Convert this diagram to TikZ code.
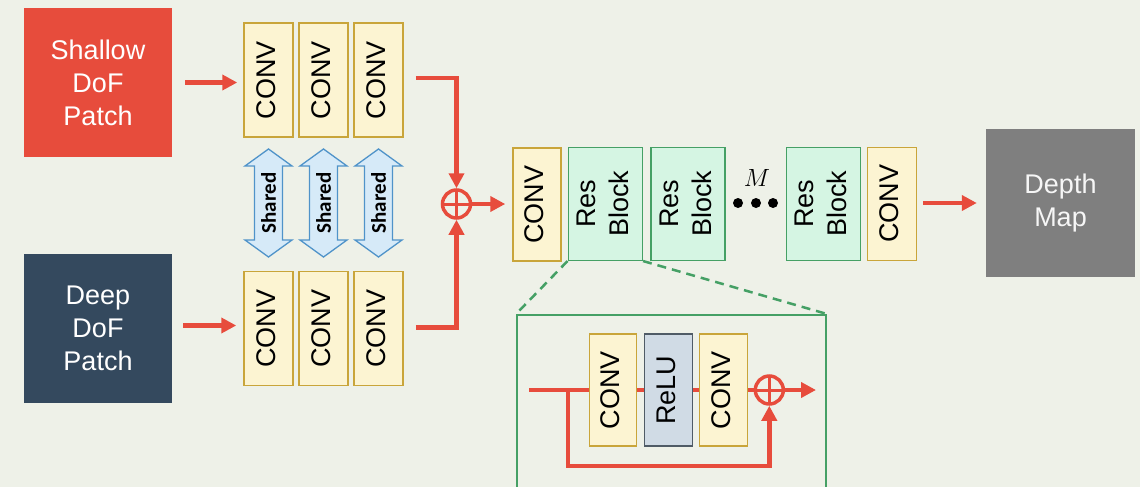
\documentclass[tikz,border=0pt]{standalone}
\usepackage{fontspec}
\usetikzlibrary{arrows.meta}
\newfontfamily\diagsans{Liberation Sans}
\newfontfamily\sharedsans{Carlito}
\newcommand\labfont{\diagsans\fontsize{27}{33}\selectfont}
\newcommand\vlab[1]{\rotatebox{90}{\begin{tabular}{@{}c@{}}#1\end{tabular}}}

\definecolor{bgc}{HTML}{EEF1E8}
\definecolor{redc}{HTML}{E74C3C}
\definecolor{navyc}{HTML}{34495E}
\definecolor{grayc}{HTML}{7F7F7F}
\definecolor{convfill}{HTML}{FCF4D2}
\definecolor{convline}{HTML}{C9A53A}
\definecolor{resfill}{HTML}{D5F5E3}
\definecolor{resline}{HTML}{45A065}
\definecolor{relufill}{HTML}{D0DBE5}
\definecolor{reluline}{HTML}{4F5B66}
\definecolor{sharefill}{HTML}{D6EAF8}
\definecolor{shareline}{HTML}{4F93C9}

\tikzset{
  patchbox/.style={minimum width=148pt, minimum height=149pt, inner sep=0pt,
    text=white, align=center, font=\labfont},
  convbox/.style={draw=convline, fill=convfill, line width=1.5pt,
    minimum width=49pt, minimum height=114pt, inner sep=0pt, font=\labfont},
  resbox/.style={draw=resline, fill=resfill, line width=1.5pt,
    minimum width=74pt, minimum height=113pt, inner sep=0pt, font=\labfont},
  relubox/.style={draw=reluline, fill=relufill, line width=1.5pt,
    minimum width=48pt, minimum height=112pt, inner sep=0pt, font=\labfont},
  redline/.style={draw=redc, line width=4.5pt},
  redarrow/.style={redline, -{Triangle[length=15pt,width=15pt]}},
  sumnode/.style={circle, draw=redc, line width=3.5pt, minimum size=28pt,
    inner sep=0pt, path picture={
      \draw[redc, line width=3pt]
        (path picture bounding box.north) -- (path picture bounding box.south)
        (path picture bounding box.west) -- (path picture bounding box.east);}},
  zoomline/.style={draw=resline, line width=2.5pt, dash pattern=on 9pt off 6pt},
  sharedarrow/.pic={
    \draw[draw=shareline, fill=sharefill, line width=1.3pt]
      (0,-54) -- (23.5,-37) -- (14,-37) -- (14,37) -- (23.5,37) -- (0,54)
      -- (-23.5,37) -- (-14,37) -- (-14,-37) -- (-23.5,-37) -- cycle;
    \node[inner sep=0pt, font=\sharedsans\bfseries\fontsize{21}{25}\selectfont]
      {\rotatebox{90}{Shared}};
  }
}

\begin{document}
\begin{tikzpicture}[x=1pt, y=-1pt]
  \useasboundingbox (0,0) rectangle (1140,487);
  \fill[bgc] (0,0) rectangle (1140,487);

  % inputs
  \node[patchbox, fill=redc]  (shallow) at (98,82.5)  {Shallow\\DoF\\Patch};
  \node[patchbox, fill=navyc] (deep)    at (98,328.5) {Deep\\DoF\\Patch};

  % two feature branches with shared weights
  \node[convbox] (a1) at (268.5,80) {\vlab{CONV}};
  \node[convbox] (a2) at (323.5,80) {\vlab{CONV}};
  \node[convbox] (a3) at (378.5,80) {\vlab{CONV}};
  \node[convbox] (b1) at (268.5,328.7) {\vlab{CONV}};
  \node[convbox] (b2) at (323.5,328.7) {\vlab{CONV}};
  \node[convbox] (b3) at (378.5,328.7) {\vlab{CONV}};
  \pic at (268.5,203) {sharedarrow};
  \pic at (323.5,203) {sharedarrow};
  \pic at (378.5,203) {sharedarrow};

  \draw[redarrow, shorten <=13pt, shorten >=6pt] (shallow.east) -- (shallow.east -| a1.west);
  \draw[redarrow, shorten <=11pt, shorten >=7pt] ([yshift=3pt]deep.east) -- ([yshift=3pt]deep.east -| b1.west);

  % fusion
  \node[sumnode] (sum) at (456.5,204) {};
  \draw[redarrow] ([xshift=12pt,yshift=2pt]a3.east) -| (sum.north);
  \draw[redarrow] ([xshift=12pt,yshift=1pt]b3.east) -| (sum.south);

  % main trunk
  \node[convbox, minimum width=48pt, minimum height=113pt] (m0) at (537,204.5) {\vlab{CONV}};
  \node[resbox] (r1) at (605.3,203.8) {\vlab{Res\\Block}};
  \node[resbox] (r2) at (688,203.8) {\vlab{Res\\Block}};
  \node[resbox] (r3) at (823.7,203.8) {\vlab{Res\\Block}};
  \node[convbox, minimum height=113pt] (m4) at (892.2,203.8) {\vlab{CONV}};
  \node[patchbox, fill=grayc, minimum width=149pt, minimum height=148pt,
        text=white!93!gray] (depth) at (1060.5,203) {Depth\\Map};

  \draw[redarrow, shorten >=7pt] (sum.east) -- (sum.east -| m0.west);
  \draw[redarrow, shorten <=6pt, shorten >=9pt] (m4.east |- depth.west) -- (depth.west);

  \fill (738,203) circle (5pt) (756,203) circle (5pt) (773,203) circle (5pt);
  \node[font=\fontsize{25}{30}\selectfont] (mlabel) at (757,178) {$M$};

  % expanded view of one residual block
  \node[draw=resline, line width=2pt, minimum width=309pt, minimum height=200pt,
        inner sep=0pt, anchor=north west] (zoom) at (516,314) {};
  \draw[zoomline] (r1.south west) -- (zoom.north west);
  \draw[zoomline] (r1.south east) -- (zoom.north east);

  \coordinate (rin) at (529,390);
  \coordinate (rsplit) at (568,390);
  \coordinate (rout) at (816,390);
  \node[sumnode] (isum) at (769.3,390) {};
  \draw[redline] (rin) -- (isum.west);
  \draw[redarrow] (isum.east) -- (rout);
  \draw[redarrow] (rsplit) -- ++(0,76) -| (isum.south);

  \node[convbox, minimum width=47.4pt, minimum height=112pt] (ic1) at (613,390) {\vlab{CONV}};
  \node[relubox] (irelu) at (668.5,390) {\vlab{ReLU}};
  \node[convbox, minimum width=48.4pt, minimum height=112pt] (ic2) at (723.5,390) {\vlab{CONV}};
\end{tikzpicture}
\end{document}
